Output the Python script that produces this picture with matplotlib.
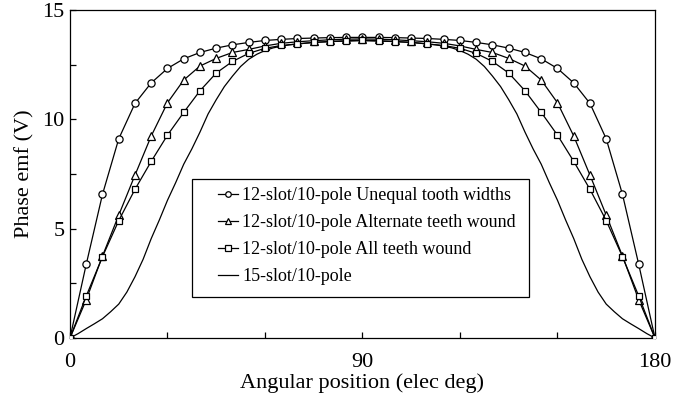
import matplotlib
matplotlib.use("Agg")
import matplotlib.pyplot as plt
from matplotlib.patches import Rectangle

plt.rcParams['font.family'] = ['Liberation Serif', 'DejaVu Serif']

# Angular positions (elec deg) for marker series
angle = [0, 5, 10, 15, 20, 25, 30, 35, 40, 45, 50, 55, 60, 65, 70, 75, 80, 85, 90,
         95, 100, 105, 110, 115, 120, 125, 130, 135, 140, 145, 150, 155, 160, 165, 170, 175, 180]

half_unequal = [0, 3.37, 6.57, 9.11, 10.73, 11.67, 12.33, 12.77, 13.06, 13.26, 13.41,
                13.52, 13.61, 13.66, 13.70, 13.72, 13.74, 13.75, 13.75]
half_alternate = [0, 1.75, 3.75, 5.62, 7.45, 9.24, 10.76, 11.80, 12.44, 12.79, 13.06,
                  13.20, 13.36, 13.48, 13.55, 13.60, 13.64, 13.67, 13.68]
half_all = [0, 1.92, 3.72, 5.37, 6.80, 8.08, 9.28, 10.32, 11.31, 12.12, 12.65,
            13.02, 13.25, 13.38, 13.45, 13.52, 13.56, 13.60, 13.62]

unequal = half_unequal + half_unequal[-2::-1]
alternate = half_alternate + half_alternate[-2::-1]
all_teeth = half_all + half_all[-2::-1]

# 15-slot/10-pole (finer sampling, no markers)
angle_15 = [0, 2.5, 5, 7.5, 10, 12.5, 15, 17.5, 20, 22.5, 25, 27.5, 30, 32.5, 35, 37.5,
            40, 42.5, 45, 47.5, 50, 52.5, 55, 57.5, 60, 62.5, 65, 67.5, 70, 72.5, 75,
            77.5, 80, 82.5, 85, 87.5, 90]
half_15 = [0, 0.20, 0.43, 0.65, 0.88, 1.20, 1.55, 2.10, 2.80, 3.60, 4.55, 5.40, 6.30,
           7.10, 7.95, 8.65, 9.42, 10.25, 10.90, 11.50, 11.98, 12.42, 12.75, 12.98,
           13.15, 13.27, 13.35, 13.41, 13.45, 13.49, 13.52, 13.54, 13.56, 13.57, 13.58,
           13.59, 13.60]
angle_15_full = angle_15 + [180 - a for a in angle_15[-2::-1]]
slot15 = half_15 + half_15[-2::-1]

labels = ["12-slot/10-pole Unequal tooth widths",
          "12-slot/10-pole Alternate teeth wound",
          "12-slot/10-pole All teeth wound",
          "15-slot/10-pole"]

fig = plt.figure(figsize=(6.95, 4.03), dpi=100)
ax = fig.add_axes([0.1007, 0.1613, 0.8417, 0.8137])

lw = 0.9
ax.plot(angle, unequal, color='black', lw=lw, marker='o', ms=5.2, mfc='white',
        mec='black', mew=0.9, label=labels[0], zorder=3)
ax.plot(angle, alternate, color='black', lw=lw, marker='^', ms=5.2, mfc='white',
        mec='black', mew=0.9, label=labels[1], zorder=3)
ax.plot(angle, all_teeth, color='black', lw=lw, marker='s', ms=5.0, mfc='white',
        mec='black', mew=0.9, label=labels[2], zorder=3)
ax.plot(angle_15_full, slot15, color='black', lw=lw, label=labels[3], zorder=2)

ax.set_xlim(0, 180)
ax.set_ylim(0, 15)
ax.set_xticks([0, 30, 60, 90, 120, 150, 180])
ax.set_xticklabels(['0', '', '', '90', '', '', '180'])
ax.set_yticks([0, 2.5, 5, 7.5, 10, 12.5, 15])
ax.set_yticklabels(['0', '', '5', '', '10', '', '15'])
ax.tick_params(direction='in', length=4, width=0.9, labelsize=16, pad=4,
               colors='black')
ax.tick_params(axis='x', pad=11)
for sp in ax.spines.values():
    sp.set_linewidth(0.9)

ax.set_xlabel("Angular position (elec deg)", fontsize=16, labelpad=1)
ax.set_ylabel("Phase emf (V)", fontsize=16, labelpad=5.5)

# legend frame drawn as a rectangle
ax.add_patch(Rectangle((0.208, 0.126), 0.577, 0.359, transform=ax.transAxes,
                       facecolor='white', edgecolor='black', lw=0.9, zorder=4))
leg = ax.legend(loc='upper left', bbox_to_anchor=(0.253, 0.459), fontsize=13,
                frameon=False, handlelength=1.1, handletextpad=0.25,
                labelspacing=0.55, borderpad=0, borderaxespad=0)
leg.set_zorder(5)
for h in leg.legend_handles:
    h.set_markersize(4)

fig.savefig("out.png", dpi=100)
